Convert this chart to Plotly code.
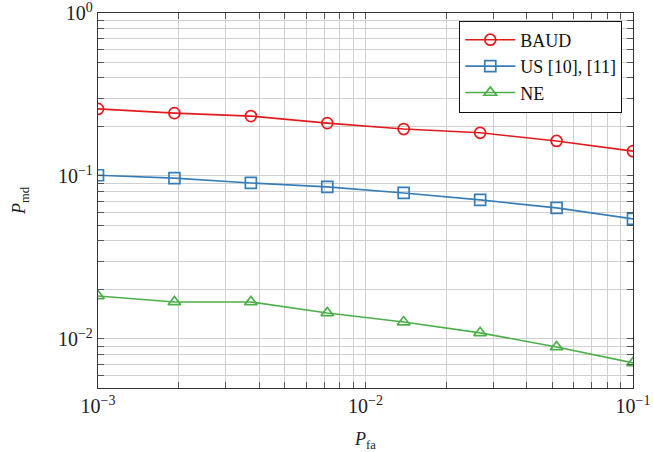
import plotly.graph_objects as go

p_fa = [0.001, 0.001931, 0.003728, 0.007197, 0.01389, 0.02683, 0.0518, 0.1]
baud = [0.258, 0.243, 0.233, 0.211, 0.194, 0.184, 0.164, 0.142]
us = [0.101, 0.097, 0.0906, 0.0857, 0.0787, 0.0713, 0.0637, 0.0545]
ne = [0.01836, 0.01687, 0.01687, 0.01444, 0.0127, 0.0109, 0.00893, 0.00713]

names = ["BAUD", "US [10], [11]", "NE"]
colors = ["#e41a1c", "#377eb8", "#4daf4a"]
symbols = ["circle-open", "square-open", "triangle-up-open"]

fig = go.Figure()
for name, ys, c, s in zip(names, [baud, us, ne], colors, symbols):
    fig.add_trace(go.Scatter(
        x=p_fa, y=ys, name=name, mode="lines+markers",
        line=dict(color=c, width=1.6),
        marker=dict(symbol=s, size=11, color=c, line=dict(width=1.7, color=c)),
    ))

def log_ticks(e0, e1):
    vals, txt = [], []
    for e in range(e0, e1 + 1):
        for k in range(1, 10):
            v = k * 10.0 ** e
            if v > 10.0 ** e1 * 1.0001:
                break
            vals.append(v)
            if k == 1:
                ex = f"\u2212{-e}" if e < 0 else "0"
                txt.append(f"10<sup>{ex}</sup>")
            else:
                txt.append("")
    return vals, txt

xv, xt = log_ticks(-3, -1)
yv, yt = log_ticks(-3, 0)

font = "Liberation Serif"
axis_common = dict(
    type="log", showgrid=True, gridcolor="#d0d0d0", gridwidth=1,
    ticks="inside", ticklen=6, tickcolor="#555", tickwidth=1,
    showline=True, linecolor="#333", linewidth=1.3, mirror="allticks",
    zeroline=False, automargin=False, ticklabeloverflow="allow",
    tickfont=dict(family=font, size=20, color="#222"),
)

fig.update_layout(
    width=653, height=452,
    margin=dict(l=98, r=20, t=13, b=64),
    plot_bgcolor="white", paper_bgcolor="white",
    font=dict(family=font, color="#222"),
    xaxis=dict(axis_common, range=[-3, -1], tickvals=xv, ticktext=xt,
               title=dict(text="<i>P</i><sub>fa</sub>", font=dict(family=font, size=18), standoff=16)),
    yaxis=dict(axis_common, range=[-2.301, 0], tickvals=yv, ticktext=yt,
               title=dict(text="<i>P</i><sub>md</sub>", font=dict(family=font, size=18), standoff=27)),
    legend=dict(x=0.98, y=0.98, xanchor="right", yanchor="top",
                bordercolor="#111", borderwidth=1, bgcolor="white",
                font=dict(family=font, size=18, color="#111"),
                tracegroupgap=0, itemwidth=50),
    showlegend=True,
)

fig.write_html("out.html")
